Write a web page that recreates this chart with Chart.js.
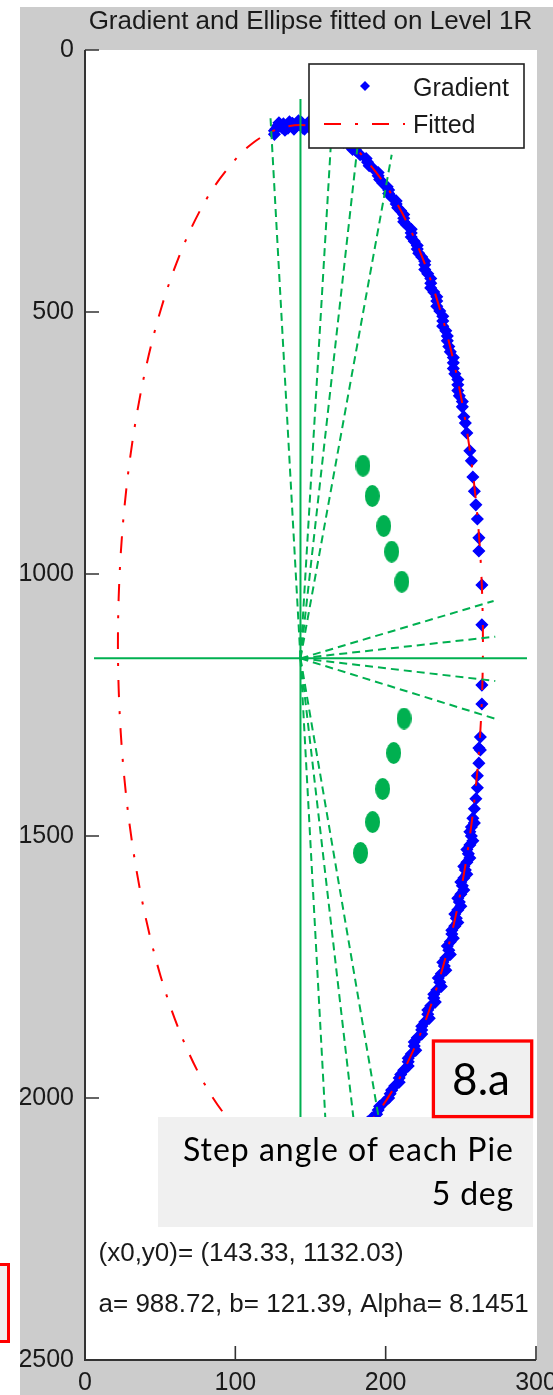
<!DOCTYPE html>
<html>
<head>
<meta charset="utf-8">
<title>Gradient and Ellipse fitted on Level 1R</title>
<script src="https://cdn.jsdelivr.net/npm/chart.js@4.4.1/dist/chart.umd.min.js"></script>
<style>
  html, body { margin: 0; padding: 0; background: #ffffff; }
  canvas { display: block; }
</style>
</head>
<body>
<canvas id="fig" width="553" height="1395"></canvas>
<script>
// ---- axis ticks ----
const xTicks = [0, 100, 200, 300];
const yTicks = [0, 500, 1000, 1500, 2000, 2500];

// ---- gradient edge samples [x, y] ----
const gradientTopArc = [
  [126,154],[127,151],[131,148],[134,146],[137,144],[141,143],[144,143],[147,144],[151,145],
  [154,148],[157,150],[161,154],[164,159],[167,164],[171,170],[174,177],[177,185],[180,191]
];
const gradientTopArcRim = [
  [126,161],[129,139],[133,153],[136,137],[139,151],[142,135],[146,151],[149,137],[152,153],
  [156,141],[159,158],[162,147],[165,166],[169,156],[172,176],[175,168],[178,190],
  [128,145],[132,141],[135,149],[138,140],[140,147],[144,138],[145,149],[148,141],[150,150]
];
const gradientUpperSide = [
  [183,200],[188,214],[192,227],[195,240],[198,254],[202,267],[204,281],[207,294],[210,307],
  [212,321],[214,334],[217,349],[219,365],[221,380],[224,395],[226,410],[228,427],[230,445],
  [232,462],[234,479],[236,498],[238,517],[240,536],[241,555],[243,576],[245,597],[246,618],
  [248,639],[249,660],[251,681],[252,700]
];
const gradientUpperRim = [
  [187,207],[189,221],[195,234],[196,247],[201,261],[202,274],[207,288],[208,301],[212,314],
  [212,328],[217,342],[217,357],[221,373],[222,388],[226,403],[226,419],[230,436],[230,454],
  [234,471],[234,489],[238,508],[238,527],[241,546],[242,566],[245,587],[245,608],[248,629],
  [248,650],[251,671]
];
const gradientSparse = [
  [253,712],[254,731],[256,765],[257,784],[258,815],[259,842],[260,868],[261,895],[262,931],
  [262,956],[264,1021],[264,1097],[264,1212],[264,1248],[263,1311],[262,1332]
];
const gradientLowerSide = [
  [263,1336],[262,1361],[261,1385],[261,1408],[260,1429],[259,1448],[258,1466],[257,1483],
  [257,1500],[256,1517],[255,1534],[254,1550],[253,1565],[252,1580],[251,1595],[250,1611],
  [249,1626],[248,1641],[247,1657],[246,1672],[244,1687],[243,1702],[242,1718],[240,1733],
  [239,1748],[237,1763],[236,1779],[234,1794],[232,1809],[230,1824],[228,1840],[226,1855],
  [224,1870],[221,1885],[219,1901],[217,1916],[215,1931],[212,1947],[209,1962],[206,1977],
  [203,1992],[199,2008],[195,2023],[191,2038],[187,2053],[181,2069],[175,2084]
];
const gradientLowerRim = [
  [259,1475],[256,1492],[258,1509],[254,1526],[256,1542],[252,1558],[254,1573],[250,1588],
  [252,1603],[248,1619],[250,1634],[246,1649],[248,1665],[244,1680],[245,1695],[241,1710],
  [243,1726],[238,1741],[240,1756],[235,1771],[237,1787],[232,1802],[233,1817],[228,1832],
  [229,1848],[224,1863],[224,1878],[219,1893],[220,1909],[215,1924],[215,1939],[210,1955],
  [209,1970],[204,1985],[202,2000],[196,2016],[194,2031],[188,2046]
];

// ---- fitted ellipse outline [x, y] ----
const fittedOutline = [
  [143.3,2120.8],[122.3,2105.7],[101.8,2061.1],[82.6,1988.3],[65.3,1889.4],[50.3,1767.6],
  [38.2,1626.4],[29.3,1470.2],[23.8,1303.7],[21.9,1132.0],[23.8,960.4],[29.3,793.9],
  [38.2,637.7],[50.3,496.5],[65.3,374.7],[82.6,275.8],[101.8,202.9],[111.9,177.0],
  [122.3,158.3],[132.8,147.1],[143.3,143.3],[153.9,147.1],[164.4,158.3],[174.8,177.0],
  [184.9,202.9],[204.0,275.8],[221.4,374.7],[236.3,496.5],[248.5,637.7],[257.4,793.9],
  [262.9,960.4],[264.7,1132.0],[262.9,1303.7],[257.4,1470.2],[248.5,1626.4],[236.3,1767.6],
  [221.4,1889.4],[204.0,1988.3],[184.9,2061.1],[164.4,2105.7],[143.3,2120.8]
];

// ---- sector guides ----
const hubPoint = [143.33, 1161];
const hubVerticalSpan = [93.5, 2200];
const hubHorizontalSpan = [6, 294];
const sectorEnds = [
  [123.3,124],[164.7,124],[182.7,147],[204,200],
  [271.8,1051.5],[272.9,1119.6],[272.9,1204.2],[275.5,1278.6],
  [161,2099],[181,2099],[199,2099]
];
const continuationDots = [
  [184.9,793.3],[191.1,851.1],[198.7,908.4],[204,957.4],[210.7,1014.7],
  [212.2,1275.8],[205.3,1341.6],[198,1410.3],[191.3,1473.3],[183.3,1532.4]
];

// ---- text ----
const titleText = 'Gradient and Ellipse fitted on Level 1R';
const legendLabels = ['Gradient', 'Fitted'];
const fitNotes = ['(x0,y0)= (143.33, 1132.03)', 'a= 988.72, b= 121.39, Alpha= 8.1451'];
const noteAnchor = { x: 9, y: [2311, 2408] };
const stepNote = ['Step angle of each Pie', '5 deg'];
const figureTag = '8.a';

const BLUE = '#0000ff', RED = '#ff0000', GREEN = '#00b050', INK = '#1a1a1a', AXIS = '#333333';
const FITTED_DASH = [17, 14, 3, 14];
const MATLAB_FONT = '"Liberation Sans", Arial, sans-serif';
const NOTE_FONT = 'Lato, "Noto Sans", sans-serif';

const toXY = p => ({ x: p[0], y: p[1] });

function ovalMark(w, h, color) {
  const c = document.createElement('canvas');
  c.width = w; c.height = h;
  const g = c.getContext('2d');
  g.fillStyle = color;
  g.beginPath();
  g.ellipse(w / 2, h / 2, w / 2, h / 2, 0, 0, Math.PI * 2);
  g.fill();
  return c;
}

const gradientPoints = [].concat(
  gradientTopArc, gradientTopArcRim, gradientUpperSide, gradientUpperRim,
  gradientSparse, gradientLowerSide, gradientLowerRim
).map(toXY);

const datasets = [
  {
    label: legendLabels[0], data: gradientPoints, order: 6,
    pointStyle: 'rectRot', pointRadius: 5.5, borderWidth: 1.5,
    backgroundColor: BLUE, borderColor: BLUE, showLine: false
  },
  {
    label: legendLabels[1], data: fittedOutline.map(toXY), order: 5,
    showLine: true, tension: 0.33, borderColor: RED, borderWidth: 2,
    borderDash: FITTED_DASH, pointRadius: 0, fill: false
  },
  {
    label: 'axis-v', order: 4, showLine: true, pointRadius: 0,
    data: hubVerticalSpan.map(v => ({ x: hubPoint[0], y: v })),
    borderColor: GREEN, borderWidth: 2
  },
  {
    label: 'axis-h', order: 4, showLine: true, pointRadius: 0,
    data: hubHorizontalSpan.map(v => ({ x: v, y: hubPoint[1] })),
    borderColor: GREEN, borderWidth: 2
  }
];
sectorEnds.forEach((e, i) => {
  datasets.push({
    label: 'sector-' + i, order: 3, showLine: true, pointRadius: 0,
    data: [toXY(hubPoint), toXY(e)],
    borderColor: GREEN, borderWidth: 2, borderDash: [8, 5]
  });
});
datasets.push({
  label: 'dots', order: 1, showLine: false, data: continuationDots.map(toXY),
  pointStyle: ovalMark(15, 22, GREEN), pointRadius: 8, borderWidth: 0
});

// figure background, white axes box
const figureBackground = {
  id: 'figureBackground',
  beforeDraw(chart) {
    const { ctx, chartArea: a } = chart;
    ctx.save();
    ctx.fillStyle = '#ffffff';
    ctx.fillRect(0, 0, chart.width, chart.height);
    ctx.fillStyle = '#cccccc';
    ctx.fillRect(20, 7, chart.width - 20, chart.height - 7);
    ctx.fillStyle = '#ffffff';
    ctx.fillRect(a.left, a.top, a.right - a.left + 1, a.bottom - a.top);
    ctx.restore();
  }
};

// axis lines, inward ticks, title, legend, notes
const figureDecor = {
  id: 'figureDecor',
  afterDraw(chart) {
    const { ctx, chartArea: a } = chart;
    const xs = chart.scales.x, ys = chart.scales.y;
    ctx.save();

    // axis lines
    ctx.strokeStyle = AXIS;
    ctx.lineWidth = 2;
    ctx.beginPath();
    ctx.moveTo(a.left, a.top);
    ctx.lineTo(a.left, a.bottom);
    ctx.lineTo(a.right, a.bottom);
    ctx.stroke();

    // inward ticks
    ctx.lineWidth = 1.6;
    ctx.beginPath();
    xTicks.forEach(v => {
      const px = xs.getPixelForValue(v);
      ctx.moveTo(px, a.bottom);
      ctx.lineTo(px, a.bottom - 14);
    });
    yTicks.forEach(v => {
      const py = ys.getPixelForValue(v);
      ctx.moveTo(a.left, py);
      ctx.lineTo(a.left + 14, py);
    });
    ctx.stroke();

    // title
    ctx.fillStyle = INK;
    ctx.font = '26px ' + MATLAB_FONT;
    ctx.textAlign = 'center';
    ctx.textBaseline = 'alphabetic';
    ctx.fillText(titleText, (a.left + a.right) / 2, 29);

    // legend
    ctx.fillStyle = '#ffffff';
    ctx.fillRect(309, 64, 215, 84);
    ctx.strokeStyle = '#222222';
    ctx.lineWidth = 1.6;
    ctx.strokeRect(309, 64, 215, 84);
    ctx.fillStyle = BLUE;
    ctx.beginPath();
    ctx.moveTo(360, 86); ctx.lineTo(365, 81); ctx.lineTo(370, 86); ctx.lineTo(365, 91);
    ctx.closePath();
    ctx.fill();
    ctx.strokeStyle = RED;
    ctx.lineWidth = 2;
    ctx.setLineDash(FITTED_DASH);
    ctx.beginPath();
    ctx.moveTo(324, 124); ctx.lineTo(405, 124);
    ctx.stroke();
    ctx.setLineDash([]);
    ctx.fillStyle = INK;
    ctx.font = '25px ' + MATLAB_FONT;
    ctx.textAlign = 'left';
    ctx.fillText(legendLabels[0], 413, 96);
    ctx.fillText(legendLabels[1], 413, 133);

    // fit parameters
    ctx.font = '26px ' + MATLAB_FONT;
    fitNotes.forEach((t, i) => {
      ctx.fillText(t, xs.getPixelForValue(noteAnchor.x), ys.getPixelForValue(noteAnchor.y[i]));
    });

    // step-angle note
    ctx.fillStyle = '#f0f0f0';
    ctx.fillRect(158, 1117, 375, 110);
    ctx.fillStyle = '#000000';
    ctx.font = '32px ' + NOTE_FONT;
    ctx.textAlign = 'right';
    ctx.letterSpacing = '1px';
    ctx.fillText(stepNote[0], 514, 1161);
    ctx.letterSpacing = '0.8px';
    ctx.fillText(stepNote[1], 514, 1205);
    ctx.letterSpacing = '0px';

    // figure tag
    ctx.fillStyle = '#f0f0f0';
    ctx.fillRect(433, 1041, 98.5, 75.5);
    ctx.strokeStyle = RED;
    ctx.lineWidth = 3.3;
    ctx.strokeRect(433.4, 1041, 98.3, 75.6);
    ctx.fillStyle = '#000000';
    ctx.font = '44px ' + NOTE_FONT;
    ctx.textAlign = 'center';
    ctx.fillText(figureTag, 481, 1095);

    // neighbouring tag frame at the left edge
    ctx.fillStyle = '#f0f0f0';
    ctx.fillRect(0, 1265, 8.5, 77);
    ctx.strokeStyle = RED;
    ctx.lineWidth = 3;
    ctx.strokeRect(-50, 1264.5, 58.5, 77);

    ctx.restore();
  }
};

const tickFont = { family: MATLAB_FONT, size: 25 };

new Chart(document.getElementById('fig'), {
  type: 'scatter',
  data: { datasets },
  options: {
    responsive: false,
    animation: false,
    devicePixelRatio: 1,
    events: [],
    layout: { padding: { left: 20, right: 17, top: 50, bottom: 0 } },
    plugins: { legend: { display: false }, tooltip: { enabled: false }, title: { display: false } },
    scales: {
      x: {
        type: 'linear', position: 'bottom', min: 0, max: 300,
        afterBuildTicks: s => { s.ticks = xTicks.map(v => ({ value: v })); },
        ticks: { autoSkip: false, maxRotation: 0, padding: 8, color: INK, font: tickFont, callback: v => String(v) },
        grid: { display: false, drawTicks: false },
        border: { display: false },
        afterFit: s => { s.height = 35; s.paddingLeft = 0; s.paddingRight = 0; }
      },
      y: {
        type: 'linear', position: 'left', reverse: true, min: 0, max: 2500,
        afterBuildTicks: s => { s.ticks = yTicks.map(v => ({ value: v })); },
        ticks: { autoSkip: false, padding: 11, color: INK, font: tickFont, callback: v => String(v) },
        grid: { display: false, drawTicks: false },
        border: { display: false },
        afterFit: s => { s.width = 65; s.paddingTop = 0; s.paddingBottom = 0; }
      }
    }
  },
  plugins: [figureBackground, figureDecor]
});
</script>
</body>
</html>
